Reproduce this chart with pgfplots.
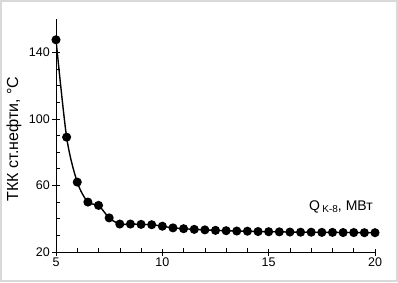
\documentclass[border=0pt,12pt]{standalone}
\usepackage{fontspec}
\setmainfont{Liberation Sans}
\usepackage{pgfplots}
\pgfplotsset{compat=1.18}
\pgfplotstableread{
x y
5 147.5
5.5 89
6 62
6.5 50
7 48
7.5 40.5
8 36.8
8.5 36.8
9 36.6
9.5 36.4
10 35.5
10.5 34.5
11 34
11.5 33.6
12 33.3
12.5 33
13 32.8
13.5 32.6
14 32.5
14.5 32.3
15 32.2
15.5 32.1
16 32
16.5 31.9
17 31.9
17.5 31.8
18 31.8
18.5 31.7
19 31.7
19.5 31.6
20 31.6
}\datatable
\begin{document}
\begin{tikzpicture}[x=1pt,y=1pt]
\draw[black!15, line width=2pt] (1,1) rectangle (397,281);
\begin{axis}[
  at={(56pt,30pt)}, anchor=south west,
  width=319pt, height=233pt, scale only axis,
  xmin=5, xmax=20, ymin=20, ymax=160,
  axis x line*=bottom, axis y line*=left,
  axis line style={black, line width=0.6pt},
  xtick={5,10,15,20}, ytick={20,60,100,140},
  minor x tick num=4, minor y tick num=3,
  tick align=inside,
  major tick length=0pt, minor tick length=4pt,
  extra x ticks={5,10,15,20}, extra x tick labels={},
  extra y ticks={20,60,100,140}, extra y tick labels={},
  extra tick style={tick align=center, major tick length=7pt},
  tick style={black, line width=0.6pt},
  /pgf/number format/assume math mode=true,
  tick label style={font=\fontsize{12.5}{14}\selectfont},
  xticklabel style={yshift=-2pt},
  yticklabel style={xshift=-2pt},
]
\addplot[black, line width=1.4pt, smooth, tension=0.5, mark=*, mark size=3.8pt] table[x=x,y=y]{\datatable};
\end{axis}
\node[rotate=90, anchor=center, inner sep=0pt, font=\fontsize{16}{18}\selectfont] at (14,143) {ТКК ст.нефти, °С};
\node[anchor=base west, inner sep=0pt, font=\fontsize{14}{16}\selectfont] at (309,72) {Q\,\raisebox{-0.35ex}{\fontsize{10}{12}\selectfont K-8}, МВт};
\end{tikzpicture}
\end{document}
